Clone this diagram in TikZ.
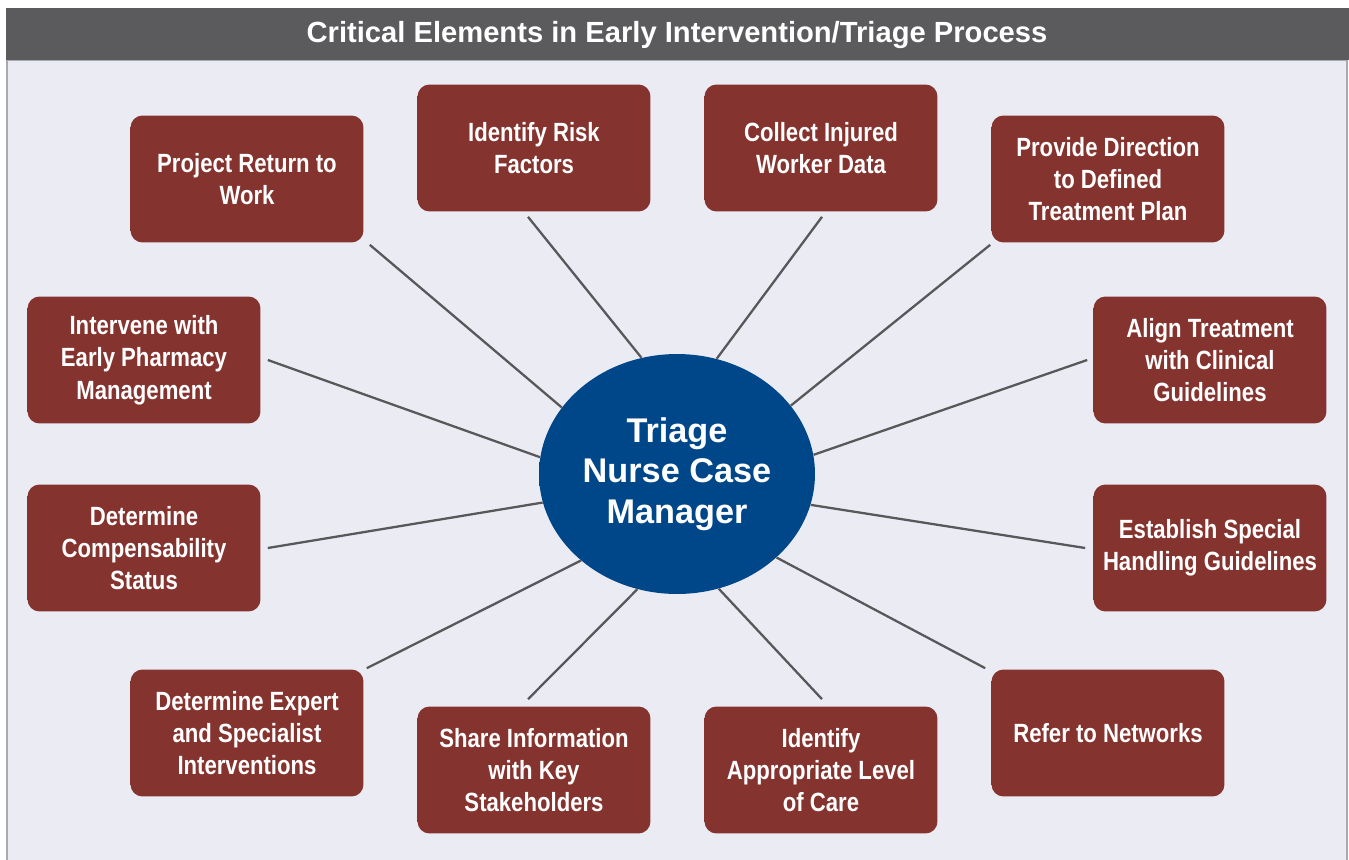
\documentclass[tikz,border=0pt]{standalone}
\usepackage{fontspec}
\setmainfont{Liberation Sans}
\newfontfamily\narrowfont{Liberation Sans}[FakeStretch=0.84]
\usetikzlibrary{calc,shapes.geometric}
\definecolor{barGray}{HTML}{5B5B5D}
\definecolor{panelBg}{HTML}{EBEBF4}
\definecolor{panelLine}{HTML}{A9A9B0}
\definecolor{boxRed}{HTML}{85332E}
\definecolor{boxLight}{HTML}{A86A66}
\definecolor{boxDark}{HTML}{4A1B18}
\definecolor{hubBlue}{HTML}{00478A}
\definecolor{hubRim}{HTML}{002E5E}
\definecolor{linkGray}{HTML}{58585A}
\pgfdeclarehorizontalshading{boxbevel}{100bp}{color(0bp)=(boxLight); color(3bp)=(boxRed); color(95bp)=(boxRed); color(100bp)=(boxDark)}
\pgfdeclareradialshading{hubrim}{\pgfpoint{-6bp}{4bp}}{color(0bp)=(hubBlue); color(38bp)=(hubBlue); color(50bp)=(hubRim)}
\begin{document}
\begin{tikzpicture}[x=0.02cm,y=-0.02cm,
		task/.style={rounded corners=0.24cm, shading=boxbevel, minimum width=4.66cm, minimum height=2.54cm,
			align=center, text=white, font=\narrowfont\bfseries\fontsize{15}{18.4}\selectfont},
		hub/.style={ellipse, shading=hubrim, minimum width=5.52cm, minimum height=4.8cm, inner sep=0pt,
			align=center, text=white, font=\bfseries\fontsize{19.5}{23}\selectfont},
		link/.style={draw=linkGray, line width=1.3pt}]
		\useasboundingbox (0,0) rectangle (1349,859);
		% panel and title bar
		\filldraw[fill=panelBg, draw=panelLine, line width=0.6pt] (7,60) rectangle (1347,862);
		\fill[barGray] (6,8) rectangle (1349,60);
		\node[text=white, font=\bfseries\fontsize{16.6}{19}\selectfont] (title) at (677,35) {Critical Elements in Early Intervention/Triage Process};
		% centre
		\node[hub] (tncm) at (677,474) {Triage\\Nurse Case\\Manager};
		% elements round the centre
		\node[task] (prw) at (247,179) {Project Return to\\Work};
		\node[task] (risk) at (534,148) {Identify Risk\\Factors};
		\node[task] (collect) at (821,148) {Collect Injured\\Worker Data};
		\node[task] (direction) at (1108,179) {Provide Direction\\to Defined\\Treatment Plan};
		\node[task] (pharmacy) at (144,360) {Intervene with\\Early Pharmacy\\Management};
		\node[task] (align) at (1210,360) {Align Treatment\\with Clinical\\Guidelines};
		\node[task] (comp) at (144,548) {Determine\\Compensability\\Status};
		\node[task] (special) at (1210,548) {Establish Special\\Handling Guidelines};
		\node[task] (expert) at (247,733) {Determine Expert\\and Specialist\\Interventions};
		\node[task] (share) at (534,770) {Share Information\\with Key\\Stakeholders};
		\node[task] (care) at (821,770) {Identify\\Appropriate Level\\of Care};
		\node[task] (networks) at (1108,733) {Refer to Networks};
		% spokes
		\draw[link] ($(prw.south east)+(6,2)$) -- (tncm.150);
		\draw[link] ($(risk.south)+(-6,5)$) -- (tncm.107);
		\draw[link] ($(collect.south)+(1,5)$) -- (tncm.71);
		\draw[link] ($(direction.south west)+(-1,2)$) -- (tncm.31);
		\draw[link] ($(pharmacy.east)+(7,0)$) -- (tncm.173);
		\draw[link] ($(align.west)+(-6,0)$) -- (tncm.8);
		\draw[link] ($(comp.east)+(7,0)$) -- (tncm.192);
		\draw[link] ($(special.west)+(-8,0)$) -- (tncm.347);
		\draw[link] ($(expert.north east)+(3,-1)$) -- (tncm.222);
		\draw[link] ($(share.north)+(-6,-7)$) -- (tncm.251);
		\draw[link] ($(care.north)+(1,-7)$) -- (tncm.290);
		\draw[link] ($(networks.north west)+(-6,-1)$) -- (tncm.320);
\end{tikzpicture}
\end{document}
